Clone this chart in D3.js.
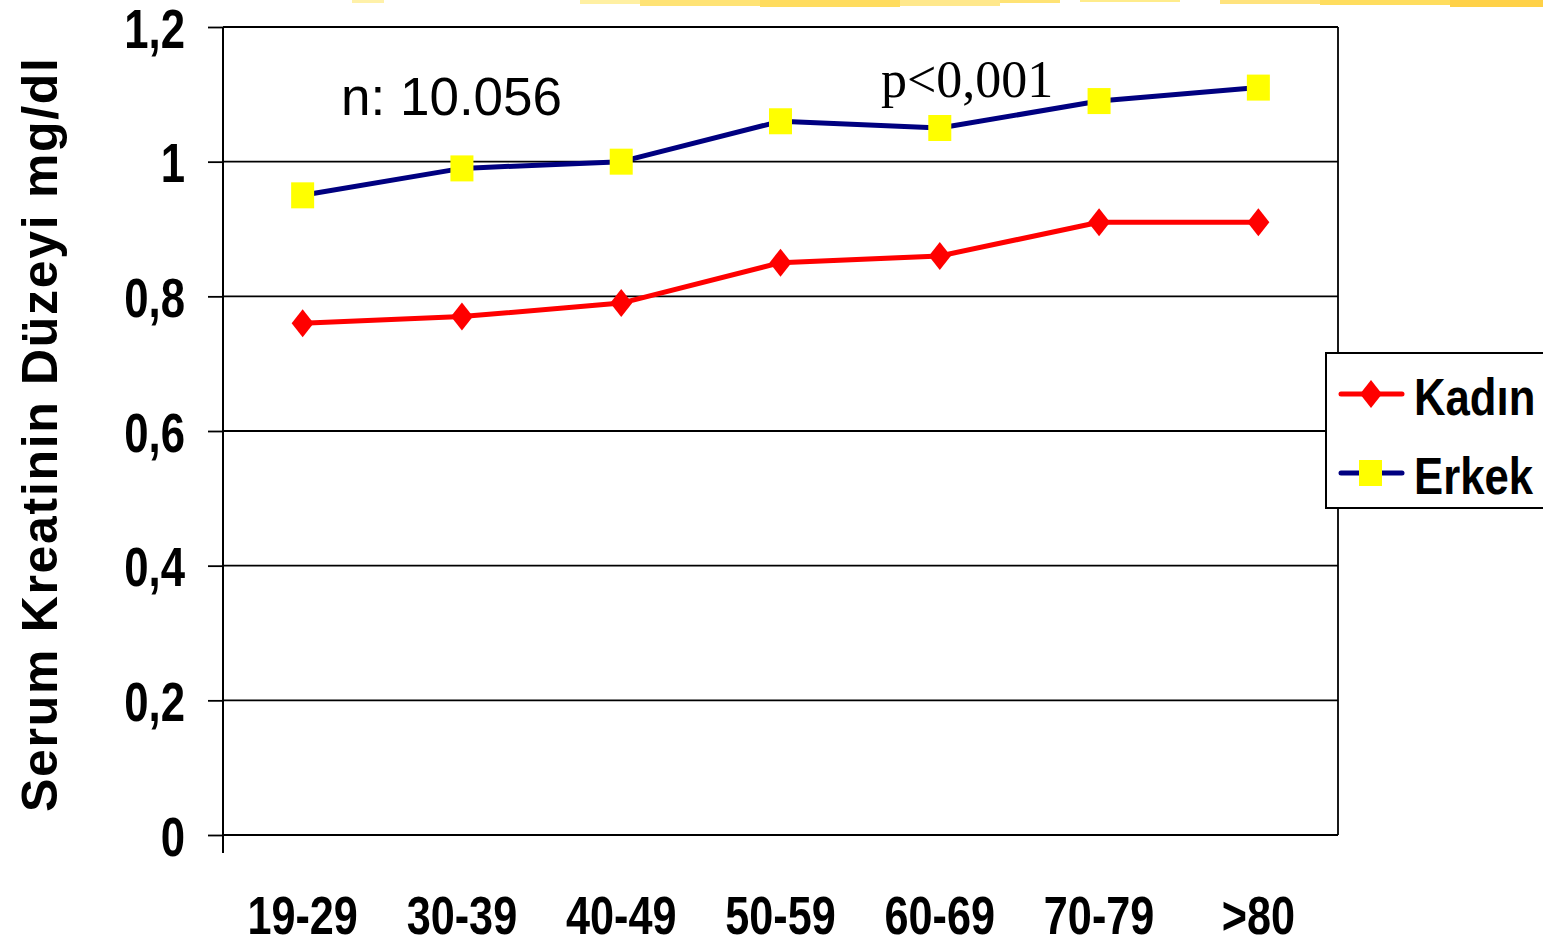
<!DOCTYPE html>
<html>
<head>
<meta charset="utf-8">
<script src="https://cdn.jsdelivr.net/npm/d3@7"></script>
<style>
  html, body { margin: 0; padding: 0; background: #ffffff; }
  svg { display: block; }
  text { font-family: "Liberation Sans", Arial, sans-serif; }
</style>
</head>
<body>
<svg id="chart" width="1543" height="944"></svg>
<script>
// ---- data ----
const categories = ["19-29", "30-39", "40-49", "50-59", "60-69", "70-79", ">80"];
const kadin = [0.76, 0.77, 0.79, 0.85, 0.86, 0.91, 0.91];
const erkek = [0.95, 0.99, 1.00, 1.06, 1.05, 1.09, 1.11];
const yTicks = [0, 0.2, 0.4, 0.6, 0.8, 1.0, 1.2];
const seriesNames = ["Kadın", "Erkek"];
const yTitle = "Serum Kreatinin Düzeyi mg/dl";
const noteN = "n: 10.056";
const noteP = "p<0,001";

// decorative top brush strokes (slide background)
const brush = [
  [352, 384, 3, "#fff0a0"], [580, 640, 4, "#ffee99"], [640, 760, 6, "#ffe066"],
  [760, 900, 7, "#ffd84d"], [900, 1000, 6, "#ffe680"], [1000, 1060, 3, "#ffe066"],
  [1080, 1180, 2, "#ffea80"], [1220, 1320, 4, "#ffe070"], [1320, 1450, 5, "#ffd94d"],
  [1450, 1543, 7, "#ffcc33"]
];

const svg = d3.select("#chart");
const pLeft = 223, pRight = 1338, pTop = 27, pBottom = 835;

svg.append("g").selectAll("rect").data(brush).join("rect")
  .attr("x", d => d[0]).attr("y", 0)
  .attr("width", d => d[1] - d[0]).attr("height", d => d[2])
  .attr("fill", d => d[3]).attr("opacity", 0.9);

const x = d3.scaleBand().domain(categories).range([pLeft, pRight]);
const cx = c => x(c) + x.bandwidth() / 2;
const y = d3.scaleLinear().domain([0, 1.2]).range([pBottom, pTop]);
const fmt = v => d3.format(".1f")(v).replace(".0", "").replace(".", ",");

// gridlines
svg.append("g").selectAll("line").data(yTicks).join("line")
  .attr("x1", pLeft).attr("x2", pRight)
  .attr("y1", d => y(d)).attr("y2", d => y(d))
  .attr("stroke", "#000").attr("stroke-width", 1.8);

// right border
svg.append("line").attr("x1", pRight).attr("x2", pRight)
  .attr("y1", pTop).attr("y2", pBottom).attr("stroke", "#000").attr("stroke-width", 1.8);

// y axis
const yAxis = svg.append("g").attr("transform", `translate(${pLeft},0)`)
  .call(d3.axisLeft(y).tickValues(yTicks).tickSize(15).tickFormat(fmt));
yAxis.select(".domain").remove();
yAxis.selectAll(".tick line").attr("stroke", "#000").attr("stroke-width", 1.8);
yAxis.selectAll(".tick text")
  .attr("x", -38 / 0.78).attr("dy", "0.36em")
  .attr("transform", "scale(0.78,1)")
  .attr("fill", "#000")
  .style("font-family", "'Liberation Sans', Arial, sans-serif")
  .style("font-size", "56px").style("font-weight", "bold");
svg.append("line").attr("x1", pLeft).attr("x2", pLeft)
  .attr("y1", pTop).attr("y2", pBottom + 18).attr("stroke", "#000").attr("stroke-width", 2);

// x axis
const xAxis = svg.append("g").attr("transform", `translate(0,${pBottom})`)
  .call(d3.axisBottom(x).tickSize(0));
xAxis.select(".domain").remove();
xAxis.selectAll(".tick text")
  .attr("y", 99).attr("dy", 0)
  .attr("transform", "scale(0.8,1)")
  .attr("fill", "#000")
  .style("font-family", "'Liberation Sans', Arial, sans-serif")
  .style("font-size", "54px").style("font-weight", "bold");

// y title
svg.append("text")
  .attr("transform", `translate(57,435) rotate(-90)`)
  .attr("text-anchor", "middle")
  .attr("textLength", 754).attr("lengthAdjust", "spacing")
  .style("font-size", "50px").style("font-weight", "bold")
  .attr("fill", "#000")
  .text(yTitle);

// lines
const line = d3.line().x((d, i) => cx(categories[i])).y(d => y(d));
svg.append("path").datum(kadin).attr("d", line)
  .attr("fill", "none").attr("stroke", "#ff0000").attr("stroke-width", 5).attr("stroke-linejoin", "round");
svg.append("path").datum(erkek).attr("d", line)
  .attr("fill", "none").attr("stroke", "#000080").attr("stroke-width", 5).attr("stroke-linejoin", "round");

const diamond = (px, py) => `M${px},${py - 14}L${px + 11},${py}L${px},${py + 14}L${px - 11},${py}Z`;
svg.append("g").selectAll("path").data(kadin).join("path")
  .attr("d", (d, i) => diamond(cx(categories[i]), y(d)))
  .attr("fill", "#ff0000");
svg.append("g").selectAll("rect").data(erkek).join("rect")
  .attr("x", (d, i) => cx(categories[i]) - 11.5).attr("y", d => y(d) - 13)
  .attr("width", 23).attr("height", 26)
  .attr("fill", "#ffff00");

// annotations
svg.append("text").attr("x", 341).attr("y", 115)
  .style("font-size", "53px").attr("fill", "#000").text(noteN);
svg.append("text").attr("x", 881).attr("y", 97)
  .style("font-family", "'Liberation Serif', 'Times New Roman', serif")
  .style("font-size", "52px").attr("fill", "#000").text(noteP);

// legend
const lg = svg.append("g");
lg.append("rect").attr("x", 1326).attr("y", 353).attr("width", 240).attr("height", 155)
  .attr("fill", "#fff").attr("stroke", "#000").attr("stroke-width", 2);
const legendY = [394, 473];
const legendColors = ["#ff0000", "#000080"];
lg.selectAll("line.s").data(seriesNames).join("line")
  .attr("x1", 1341).attr("x2", 1402)
  .attr("y1", (d, i) => legendY[i]).attr("y2", (d, i) => legendY[i])
  .attr("stroke", (d, i) => legendColors[i]).attr("stroke-width", 5).attr("stroke-linecap", "round");
lg.append("path").attr("d", diamond(1371, legendY[0])).attr("fill", "#ff0000");
lg.append("rect").attr("x", 1359).attr("y", legendY[1] - 13).attr("width", 23).attr("height", 26).attr("fill", "#ffff00");
lg.selectAll("text").data(seriesNames).join("text")
  .attr("transform", (d, i) => `translate(1414,${legendY[i] + 21}) scale(0.84,1)`)
  .style("font-size", "52px").style("font-weight", "bold").attr("fill", "#000")
  .text(d => d);
</script>
</body>
</html>
